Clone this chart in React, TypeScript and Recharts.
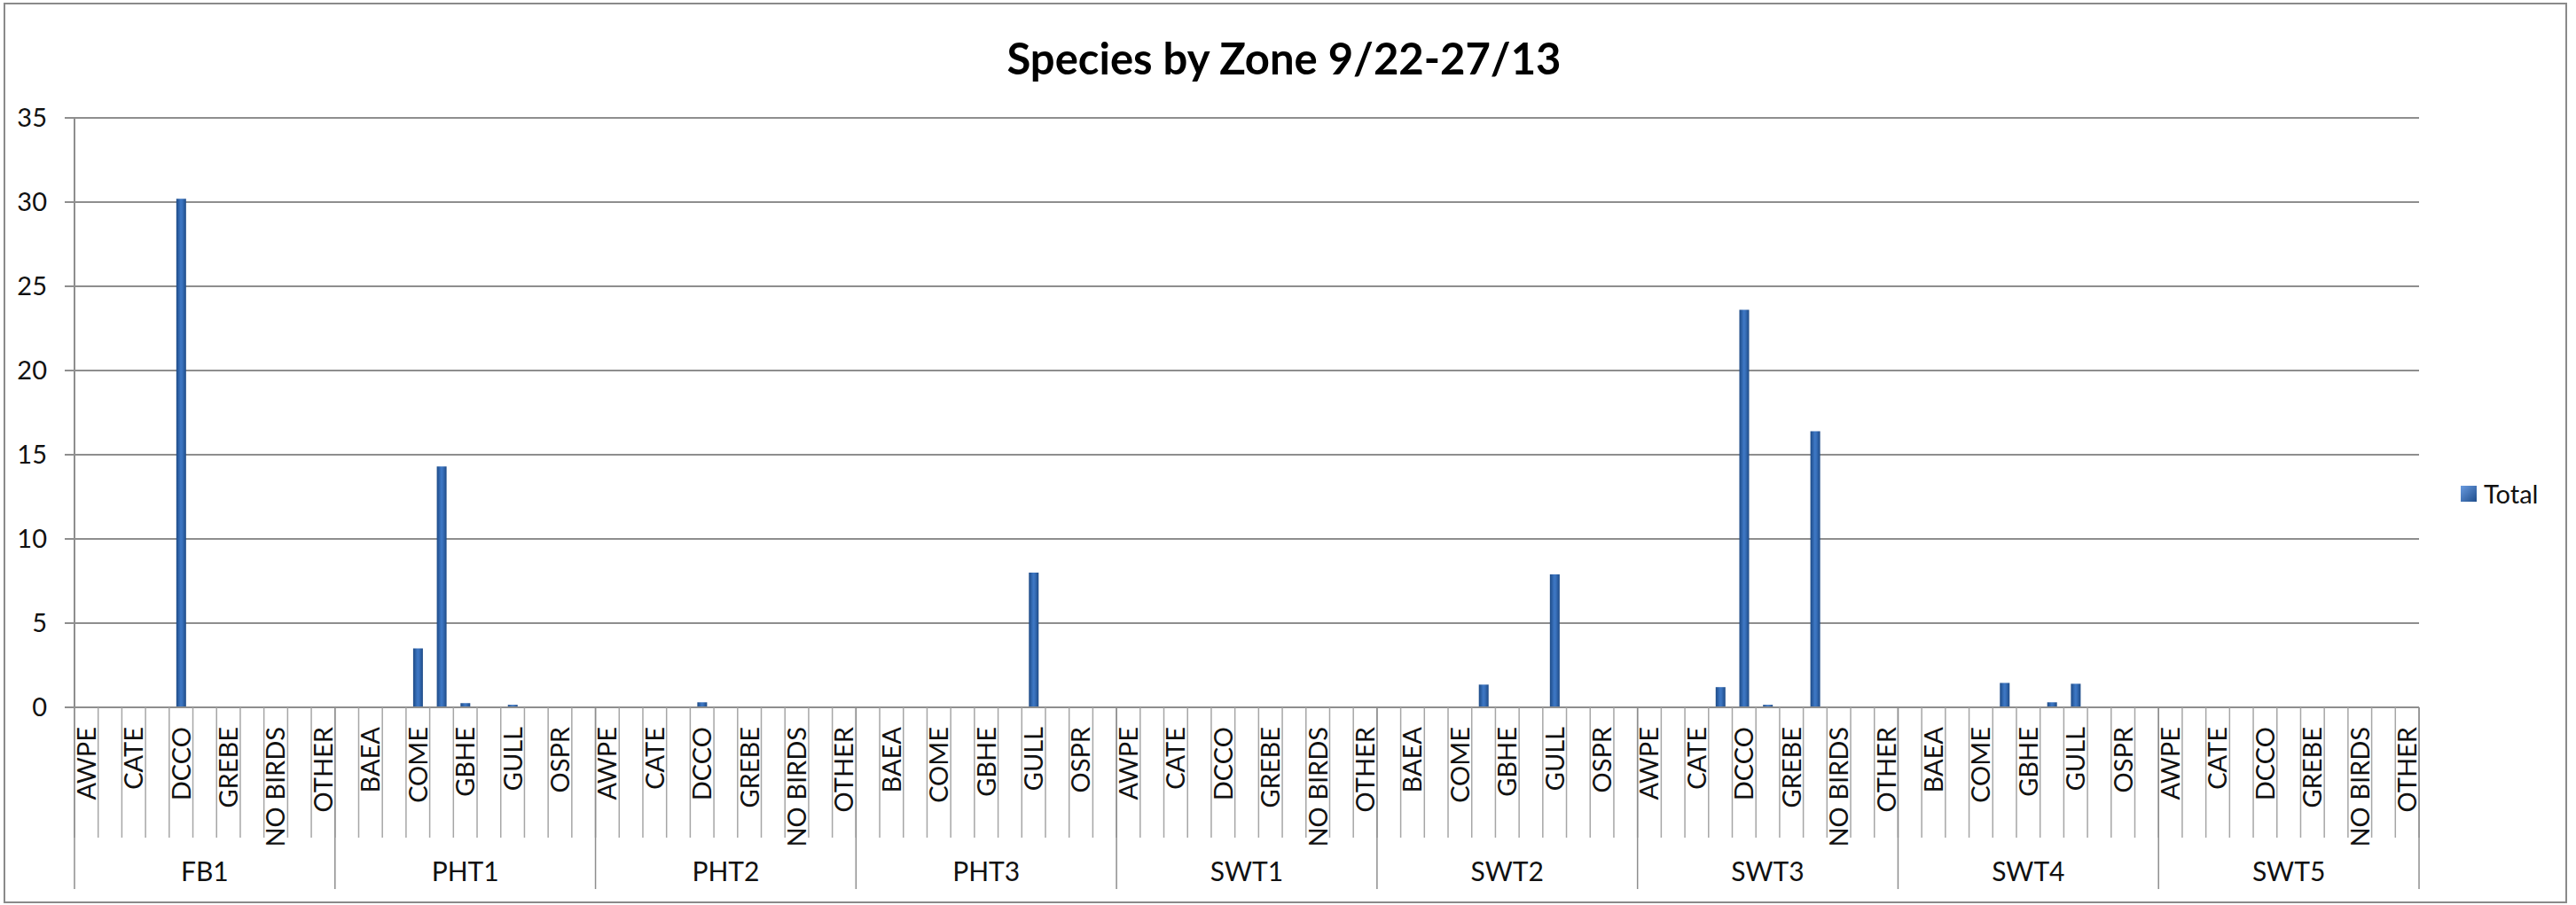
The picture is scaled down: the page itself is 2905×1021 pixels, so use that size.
import { Bar, BarChart, CartesianGrid, XAxis, YAxis } from "recharts"

const species = ["AWPE", "BAEA", "CATE", "COME", "DCCO", "GBHE", "GREBE", "GULL", "NO BIRDS", "OSPR", "OTHER"]
const zones = ["FB1", "PHT1", "PHT2", "PHT3", "SWT1", "SWT2", "SWT3", "SWT4", "SWT5"]

// totals per zone, same order as species
const fb1 = [0, 0, 0, 0, 30.2, 0, 0.05, 0, 0, 0, 0]
const pht1 = [0, 0, 0, 3.5, 14.3, 0.25, 0, 0.15, 0, 0.05, 0]
const pht2 = [0, 0, 0, 0, 0.3, 0, 0, 0, 0, 0, 0]
const pht3 = [0, 0, 0, 0, 0, 0, 0, 8, 0, 0.05, 0]
const swt1 = [0, 0, 0, 0, 0, 0, 0, 0, 0, 0, 0]
const swt2 = [0, 0, 0, 0, 1.35, 0, 0, 7.9, 0, 0, 0]
const swt3 = [0, 0, 0, 1.2, 23.6, 0.15, 0, 16.4, 0, 0, 0]
const swt4 = [0, 0, 0, 0, 1.45, 0, 0.3, 1.4, 0, 0, 0]
const swt5 = [0, 0, 0, 0, 0, 0, 0, 0, 0, 0, 0]

const yTicks = [0, 5, 10, 15, 20, 25, 30, 35]

const totals = [fb1, pht1, pht2, pht3, swt1, swt2, swt3, swt4, swt5]

const rows = zones.flatMap((zone, z) =>
  species.map((sp, s) => ({ key: `${zone}|${sp}`, zone, sp, total: totals[z][s] }))
)

const W = 2905
const H = 1021
const margin = { top: 133, right: 177, left: 24, bottom: 18 }
const Y_W = 60
const SP_H = 147
const ZONE_H = 58
const PLOT_W = W - margin.left - Y_W - margin.right
const step = PLOT_W / rows.length

const font = "Lato, 'Open Sans', sans-serif"
const lineColor = "#8e8e8e"

function SpeciesTick(props: any) {
  const { x, y, index } = props
  const row = rows[index]
  const left = x - step / 2
  return (
    <g>
      <line x1={left} x2={left} y1={y} y2={y + SP_H} stroke="#a6a6a6" strokeWidth={1.5} />
      {index === rows.length - 1 && (
        <line x1={x + step / 2} x2={x + step / 2} y1={y} y2={y + SP_H} stroke="#a6a6a6" strokeWidth={1.5} />
      )}
      {index % 2 === 0 && (
        <text
          x={x}
          y={y + 22}
          dy="0.36em"
          transform={`rotate(-90, ${x}, ${y + 22})`}
          textAnchor="end"
          fontFamily={font}
          fontSize={29}
          fill="#111"
        >
          {row.sp}
        </text>
      )}
    </g>
  )
}

function ZoneTick(props: any) {
  const { x, y, index } = props
  const n = species.length
  const pos = index % n
  const row = rows[index]
  return (
    <g>
      {pos === 0 && (
        <line x1={x - step / 2} x2={x - step / 2} y1={y - SP_H} y2={y + ZONE_H} stroke={lineColor} strokeWidth={1.5} />
      )}
      {index === rows.length - 1 && (
        <line x1={x + step / 2} x2={x + step / 2} y1={y - SP_H} y2={y + ZONE_H} stroke={lineColor} strokeWidth={1.5} />
      )}
      {pos === Math.floor(n / 2) && (
        <text x={x} y={y + 38} dy="0.36em" textAnchor="middle" fontFamily={font} fontSize={30} fill="#111">
          {row.zone}
        </text>
      )}
    </g>
  )
}

export default function App() {
  return (
    <div style={{ position: "absolute", left: 0, top: 0, width: W, height: H, background: "#fff" }}>
      <div
        style={{
          position: "absolute",
          left: 4,
          top: 3,
          width: 2891,
          height: 1016,
          border: "2px solid #8a8a8a",
          boxSizing: "border-box",
        }}
      />
      <div
        style={{
          position: "absolute",
          left: 0,
          width: 2896,
          top: 36,
          textAlign: "center",
          fontFamily: font,
          fontWeight: "bold",
          fontSize: 49,
          color: "#000",
        }}
      >
        Species by Zone 9/22-27/13
      </div>
      <BarChart width={W} height={H} data={rows} margin={margin} style={{ position: "absolute", left: 0, top: 0 }}>
        <defs>
          <linearGradient id="barGrad" x1="0" y1="0" x2="1" y2="0">
            <stop offset="0%" stopColor="#1d4a86" />
            <stop offset="45%" stopColor="#3d77c4" />
            <stop offset="60%" stopColor="#3a72bd" />
            <stop offset="100%" stopColor="#1d4a86" />
          </linearGradient>
        </defs>
        <CartesianGrid vertical={false} stroke={lineColor} strokeWidth={2} />
        <XAxis
          xAxisId="sp"
          dataKey="key"
          interval={0}
          height={SP_H}
          tickSize={0}
          tickMargin={0}
          tick={<SpeciesTick />}
          axisLine={{ stroke: lineColor, strokeWidth: 2 }}
          tickLine={false}
        />
        <XAxis
          xAxisId="zone"
          dataKey="key"
          interval={0}
          height={ZONE_H}
          tickSize={0}
          tickMargin={0}
          tick={<ZoneTick />}
          axisLine={false}
          tickLine={false}
        />
        <YAxis
          width={Y_W}
          domain={[0, 35]}
          ticks={yTicks}
          interval={0}
          tickSize={11}
          tickMargin={20}
          axisLine={{ stroke: lineColor, strokeWidth: 2 }}
          tickLine={{ stroke: lineColor, strokeWidth: 2 }}
          tick={{ fontFamily: font, fontSize: 29, fill: "#111" }}
        />
        <Bar xAxisId="sp" dataKey="total" name="Total" fill="url(#barGrad)" barSize={11} isAnimationActive={false} />
      </BarChart>
      <div
        style={{
          position: "absolute",
          left: 2775,
          top: 539,
          display: "flex",
          alignItems: "center",
          fontFamily: font,
          fontSize: 29,
          color: "#111",
        }}
      >
        <span
          style={{
            width: 18,
            height: 18,
            marginRight: 8,
            background: "linear-gradient(135deg, #6a9be0, #1f4e8c)",
            display: "inline-block",
          }}
        />
        Total
      </div>
    </div>
  )
}
